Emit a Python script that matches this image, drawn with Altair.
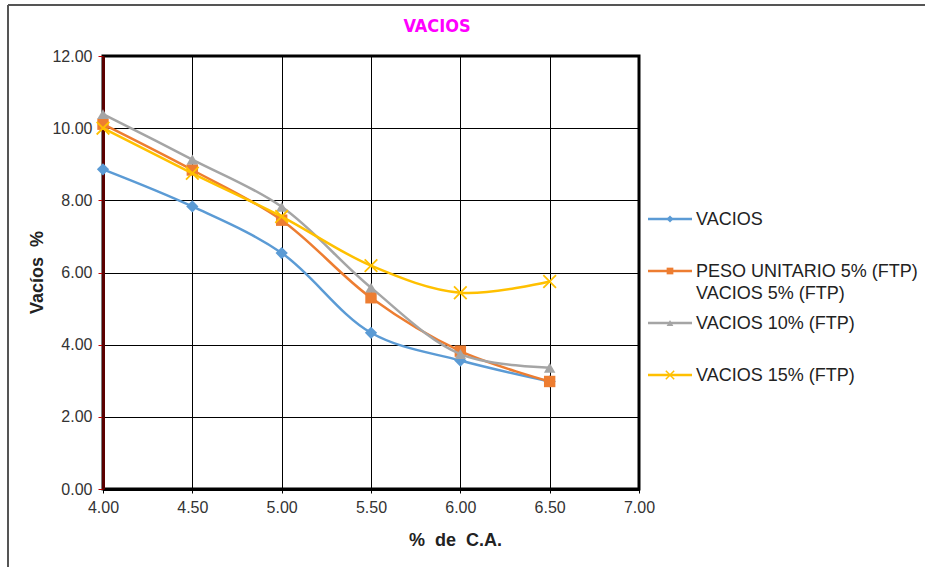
import altair as alt
import pandas as pd

# Asphalt content (% de C.A.) and air voids for each mix
asphalt = [4.0, 4.5, 5.0, 5.5, 6.0, 6.5]
series_names = [
    "VACIOS",
    "PESO UNITARIO 5% (FTP)\nVACIOS 5% (FTP)",
    "VACIOS 10% (FTP)",
    "VACIOS 15% (FTP)",
]
vacios = [8.86, 7.83, 6.54, 4.33, 3.56, 2.98]
vacios_5 = [10.11, 8.84, 7.45, 5.30, 3.82, 2.98]
vacios_10 = [10.39, 9.13, 7.82, 5.58, 3.74, 3.36]
vacios_15 = [10.00, 8.75, 7.55, 6.19, 5.44, 5.75]
series_values = [vacios, vacios_5, vacios_10, vacios_15]

x_ticks = [4.0, 4.5, 5.0, 5.5, 6.0, 6.5, 7.0]
y_ticks = [0, 2, 4, 6, 8, 10, 12]

colors = ["#5B9BD5", "#ED7D31", "#A5A5A5", "#FFC000"]
X_SHAPE = "M-1,-1L1,1M-1,1L1,-1"
shapes = ["diamond", "square", "triangle-up", X_SHAPE]
plot_sizes = [150, 130, 130, 160]
legend_sizes = [50, 45, 45, 70]

FONT = "Liberation Sans, Arial, sans-serif"
NBSP = "\u00a0"
W, H = 536, 433
PAD_L, PAD_T = 103, 56

x_scale = alt.Scale(domain=[4, 7], nice=False, zero=False)
y_scale = alt.Scale(domain=[0, 12], nice=False)

x_axis = alt.Axis(
    values=x_ticks, format=".2f", grid=True, gridColor="#000000", gridWidth=1,
    domainColor="#000000", domainWidth=3, tickColor="#000000", tickSize=4,
    labelFont=FONT, labelFontSize=16, labelColor="#333333", labelPadding=6,
    labelFlush=False, labelOverlap=False,
    title=f"%{NBSP*2}de{NBSP*2}C.A.", titleFont=FONT, titleFontSize=18, titleFontWeight="bold",
    titleColor="#222222", titleX=352, titleY=51, titleAlign="center",
    titleBaseline="middle", zindex=0,
)
y_axis = alt.Axis(
    values=y_ticks, format=".2f", grid=True, gridColor="#000000", gridWidth=1,
    domainColor="#5a0000", domainWidth=3, tickColor="#C00000", tickSize=5,
    labelFont=FONT, labelFontSize=16, labelColor="#333333", labelPadding=6,
    labelFlush=False, labelOverlap=False,
    title=f"Vacíos{NBSP*2}%", titleFont=FONT, titleFontSize=18, titleFontWeight="bold",
    titleColor="#222222", titleX=-66, titleY=216, titleAlign="center",
    titleBaseline="middle", zindex=0,
)

data_layers = []
for i, (name, vals) in enumerate(zip(series_names, series_values)):
    df = pd.DataFrame({"ca": asphalt, "v": vals, "serie": name})
    base = alt.Chart(df).encode(
        x=alt.X("ca:Q", scale=x_scale, axis=x_axis),
        y=alt.Y("v:Q", scale=y_scale, axis=y_axis),
    )
    data_layers.append(base.mark_line(color=colors[i], strokeWidth=2.5, interpolate="catmull-rom"))
    if shapes[i] == X_SHAPE:
        pt = base.mark_point(shape=X_SHAPE, filled=False, stroke=colors[i], strokeWidth=1.8,
                             size=plot_sizes[i], opacity=1)
    else:
        pt = base.mark_point(shape=shapes[i], filled=True, fill=colors[i], size=plot_sizes[i],
                             opacity=1, strokeWidth=0)
    data_layers.append(pt)

deco = []
one = pd.DataFrame({"k": [0]})

# Outer frame lines (top and left edges)
deco.append(alt.Chart(one).mark_rule(color="#555555", strokeWidth=2).encode(
    x=alt.value(-95), x2=alt.value(822), y=alt.value(-51)))
deco.append(alt.Chart(one).mark_rule(color="#555555", strokeWidth=2).encode(
    x=alt.value(-95), y=alt.value(-51), y2=alt.value(511)))

# Legend drawn at the right of the plot
row_y = [163, 215, 267, 319]
for i, name in enumerate(series_names):
    yy = row_y[i]
    deco.append(alt.Chart(one).mark_rule(color=colors[i], strokeWidth=2.5).encode(
        x=alt.value(545), x2=alt.value(589), y=alt.value(yy)))
    if shapes[i] == X_SHAPE:
        mk = alt.Chart(one).mark_point(shape=X_SHAPE, filled=False, stroke=colors[i], strokeWidth=1.5,
                                       size=legend_sizes[i], opacity=1)
    else:
        mk = alt.Chart(one).mark_point(shape=shapes[i], filled=True, fill=colors[i],
                                       size=legend_sizes[i], opacity=1, strokeWidth=0)
    deco.append(mk.encode(x=alt.value(567), y=alt.value(yy)))
    deco.append(alt.Chart(pd.DataFrame({"t": [name]})).mark_text(
        align="left", baseline="alphabetic", font=FONT, fontSize=18, color="#222222",
        lineBreak="\n", lineHeight=22,
    ).encode(x=alt.value(593), y=alt.value(yy + 6), text="t:N"))

# Chart title
deco.append(alt.Chart(pd.DataFrame({"t": ["VACIOS"]})).mark_text(
    align="center", baseline="middle", font="Liberation Sans Narrow, DejaVu Sans Condensed, Arial Narrow, sans-serif",
    fontSize=18, fontWeight="bold", color="#FF00FF",
).encode(x=alt.value(334), y=alt.value(-29), text="t:N"))

chart = alt.layer(*data_layers, *deco).properties(
    width=W, height=H,
    autosize=alt.AutoSizeParams(type="none"),
    padding={"left": PAD_L, "top": PAD_T, "right": 925 - PAD_L - W, "bottom": 567 - PAD_T - H},
    background="#ffffff",
).configure_view(stroke="#000000", strokeWidth=3)

chart.save("out.html", embed_options={"renderer": "svg", "actions": False})
